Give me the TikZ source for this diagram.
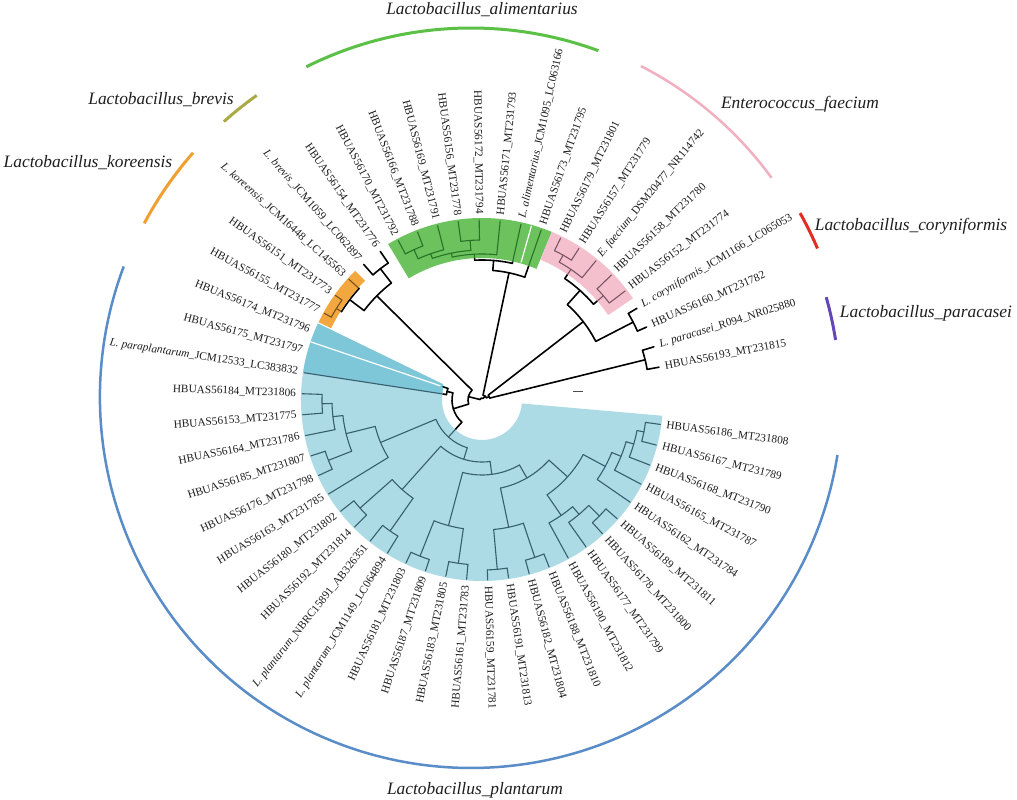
\documentclass[tikz,border=0pt]{standalone}
\usepackage{fontspec}
\setmainfont{Liberation Serif}
\definecolor{fblue}{RGB}{172,218,229}
\definecolor{fbluedk}{RGB}{125,199,217}
\definecolor{fgreen}{RGB}{108,194,92}
\definecolor{fpink}{RGB}{244,192,206}
\definecolor{forange}{RGB}{242,168,62}
\definecolor{lblue}{RGB}{55,95,110}
\definecolor{lgreen}{RGB}{40,115,40}
\definecolor{lpink}{RGB}{125,85,100}
\definecolor{lorange}{RGB}{120,80,30}
\definecolor{agreen}{RGB}{90,192,70}
\definecolor{apink}{RGB}{240,176,192}
\definecolor{ared}{RGB}{225,45,35}
\definecolor{apurple}{RGB}{100,70,180}
\definecolor{aolive}{RGB}{170,170,70}
\definecolor{aorange}{RGB}{240,160,50}
\definecolor{ablue}{RGB}{90,140,200}
\definecolor{txt}{RGB}{30,30,30}
\tikzset{
  tl/.style={draw=black, line width=1.6pt, line cap=round},
  lbl/.style={inner sep=0pt, font=\fontsize{11.3}{12}\selectfont, text=txt},
  spec/.style={inner sep=0pt, font=\fontsize{17.4}{19}\selectfont\itshape, text=txt},
  oarc/.style={line width=3pt}
}
\newcommand{\RL}[3]{\draw[tl] (#1:#2pt) -- (#1:#3pt);}
\newcommand{\AR}[3]{\draw[tl] (#2:#1pt) arc[start angle=#2,end angle=#3,radius=#1pt];}
\newcommand{\hb}[2]{HBUAS#1\_MT#2}
\newcommand{\lab}[3]{%
  \ifdim #2pt>90pt\relax
    \ifdim #2pt<270pt\relax
      \node[lbl,anchor=east,rotate=#2-180] (l#1) at (#2:186pt) {#3};
    \else
      \node[lbl,anchor=west,rotate=#2] (l#1) at (#2:186pt) {#3};
    \fi
  \else
    \node[lbl,anchor=west,rotate=#2] (l#1) at (#2:186pt) {#3};
  \fi}
\newcommand{\bluepath}{(155:181pt) arc[start angle=155,end angle=355,radius=181pt] -- (355:40pt) arc[start angle=355,end angle=170,radius=40pt] -- (158:42pt) -- cycle}
\newcommand{\sector}[4]{(#1:#3pt) -- (#1:#4pt) arc[start angle=#1,end angle=#2,radius=#4pt] -- (#2:#3pt) arc[start angle=#2,end angle=#1,radius=#3pt] -- cycle}
\newcommand{\treelines}{%
% root
\AR{2}{51.91}{166.17}\RL{166.17}{2}{14}\RL{51.91}{2}{5}%
\AR{14}{135.29}{197.04}\RL{135.29}{14}{148}\RL{197.04}{14}{30}%
\AR{5}{25.8}{78.02}\RL{78.02}{5}{130}\RL{25.8}{5}{8}%
\AR{8}{13.85}{37.73}\RL{37.73}{8}{128}\RL{13.85}{8}{168}%
% paracasei group
\AR{168}{10.5}{17.2}\RL{10.5}{168}{180}\RL{17.2}{168}{180}%
% coryniformis + pink
\AR{128}{27.25}{48.19}\RL{27.25}{128}{170}\RL{48.19}{128}{147}%
\AR{170}{23.9}{30.6}\RL{23.9}{170}{180}\RL{30.6}{170}{180}%
\AR{147}{40.65}{55.73}\RL{40.65}{147}{160}\RL{55.73}{147}{158}%
\AR{160}{37.3}{44}\RL{37.3}{160}{180}\RL{44}{160}{180}%
\AR{158}{50.7}{60.75}\RL{50.7}{158}{180}\RL{60.75}{158}{166}%
\AR{166}{57.4}{64.1}\RL{57.4}{166}{180}\RL{64.1}{166}{180}%
% green
\AR{130}{70.8}{85.24}\RL{70.8}{130}{180}\RL{85.24}{130}{140}%
\AR{140}{77.5}{92.99}\RL{77.5}{140}{180}\RL{92.99}{140}{146}%
\AR{146}{84.2}{101.78}\RL{84.2}{146}{180}\RL{101.78}{146}{150}%
\AR{150}{94.25}{109.33}\RL{94.25}{150}{160}\RL{109.33}{150}{155}%
\AR{160}{90.9}{97.6}\RL{90.9}{160}{180}\RL{97.6}{160}{180}%
\AR{155}{104.3}{114.35}\RL{104.3}{155}{180}\RL{114.35}{155}{165}%
\AR{165}{111}{117.7}\RL{111}{165}{180}\RL{117.7}{165}{180}%
% brevis + koreensis
\AR{148}{127.75}{142.83}\RL{127.75}{148}{166}\RL{142.83}{148}{166}%
\AR{166}{124.4}{131.1}\RL{124.4}{166}{180}\RL{131.1}{166}{180}%
\AR{166}{137.8}{147.85}\RL{137.8}{166}{180}\RL{147.85}{166}{172}%
\AR{172}{144.5}{151.2}\RL{144.5}{172}{180}\RL{151.2}{172}{180}%
% blue
\AR{30}{166.28}{227.8}\RL{166.28}{30}{36}\RL{227.8}{30}{50}%
\AR{36}{161.25}{171.3}\RL{161.25}{36}{42}\RL{171.3}{36}{180}%
\AR{50}{202.71}{252.88}\RL{202.71}{50}{110}\RL{252.88}{50}{62}%
\AR{110}{193.91}{211.5}\RL{193.91}{110}{140}\RL{211.5}{110}{180}%
\AR{140}{186.38}{201.45}\RL{186.38}{140}{150}\RL{201.45}{140}{165}%
\AR{150}{181.35}{191.4}\RL{181.35}{150}{160}\RL{191.4}{150}{180}%
\AR{160}{178}{184.7}\RL{178}{160}{180}\RL{184.7}{160}{180}%
\AR{165}{198.1}{204.8}\RL{198.1}{165}{180}\RL{204.8}{165}{180}%
\AR{62}{228.25}{277.5}\RL{228.25}{62}{120}\RL{277.5}{62}{75}%
\AR{120}{221.55}{234.95}\RL{221.55}{120}{163}\RL{234.95}{120}{160}%
\AR{163}{218.2}{224.9}\RL{218.2}{163}{180}\RL{224.9}{163}{180}%
\AR{160}{231.6}{238.3}\RL{231.6}{160}{180}\RL{238.3}{160}{180}%
\AR{75}{255.05}{299.96}\RL{255.05}{75}{130}\RL{299.96}{75}{90}%
\AR{130}{248.35}{261.75}\RL{248.35}{130}{168}\RL{261.75}{130}{165}%
\AR{168}{245}{251.7}\RL{245}{168}{180}\RL{251.7}{168}{180}%
\AR{165}{258.4}{265.1}\RL{258.4}{165}{180}\RL{265.1}{165}{180}%
\AR{90}{281.85}{318.07}\RL{281.85}{90}{130}\RL{318.07}{90}{115}%
\AR{130}{275.15}{288.55}\RL{275.15}{130}{170}\RL{288.55}{130}{166}%
\AR{170}{271.8}{278.5}\RL{271.8}{170}{180}\RL{278.5}{170}{180}%
\AR{166}{285.2}{291.9}\RL{285.2}{166}{180}\RL{291.9}{166}{180}%
\AR{115}{304.46}{331.68}\RL{304.46}{115}{140}\RL{331.68}{115}{140}%
\AR{140}{298.6}{310.33}\RL{298.6}{140}{180}\RL{310.33}{140}{150}%
\AR{150}{305.3}{315.35}\RL{305.3}{150}{180}\RL{315.35}{150}{165}%
\AR{165}{312}{318.7}\RL{312}{165}{180}\RL{318.7}{165}{180}%
\AR{140}{325.4}{337.96}\RL{325.4}{140}{180}\RL{337.96}{140}{150}%
\AR{150}{332.1}{343.83}\RL{332.1}{150}{180}\RL{343.83}{150}{158}%
\AR{158}{338.8}{348.85}\RL{338.8}{158}{180}\RL{348.85}{158}{165}%
\AR{165}{345.5}{352.2}\RL{345.5}{165}{180}\RL{352.2}{165}{180}%
}
\begin{document}
\begin{tikzpicture}[x=1pt,y=1pt]
\useasboundingbox (0,0) rectangle (1017,800);
\fill[white] (0,0) rectangle (1017,800);
\begin{scope}[shift={(482,400)}]
  % black tree
  \treelines
  % shadings
  \fill[fblue] \bluepath;
  \fill[fbluedk] (158:42pt) -- (155:181pt) arc[start angle=155,end angle=171.3,radius=181pt] -- (171.3:40pt) -- cycle;
  \fill[fgreen] \sector{67.45}{121.05}{142}{182};
  \fill[fpink] \sector{33.95}{67.45}{152}{182};
  \fill[forange] \sector{134.45}{154.55}{167}{181};
  % coloured tree parts
  \begin{scope}
    \clip \bluepath;
    \tikzset{tl/.style={draw=lblue, line width=1.1pt, line cap=round}}
    \treelines
  \end{scope}
  \begin{scope}
    \clip \sector{67.45}{121.05}{142}{182};
    \tikzset{tl/.style={draw=lgreen, line width=1.1pt, line cap=round}}
    \treelines
  \end{scope}
  \begin{scope}
    \clip \sector{33.95}{67.45}{152}{182};
    \tikzset{tl/.style={draw=lpink, line width=1.1pt, line cap=round}}
    \treelines
  \end{scope}
  \begin{scope}
    \clip \sector{134.45}{154.55}{167}{181};
    \tikzset{tl/.style={draw=lorange, line width=1.1pt, line cap=round}}
    \treelines
  \end{scope}
  \draw[white, line width=1.2pt] (161.25:44pt) -- (161.25:181pt);
  \draw[white, line width=1.2pt] (74.15:143pt) -- (74.15:181pt);
  % labels
  \lab{0}{10.5}{\hb{56193}{231815}}
  \lab{1}{17.2}{\textit{L. paracasei}\_R094\_NR025880}
  \lab{2}{23.9}{\hb{56160}{231782}}
  \lab{3}{30.6}{\textit{L. coryniformis}\_JCM1166\_LC065053}
  \lab{4}{37.3}{\hb{56152}{231774}}
  \lab{5}{44.0}{\hb{56158}{231780}}
  \lab{6}{50.7}{\textit{E. faecium}\_DSM20477\_NR114742}
  \lab{7}{57.4}{\hb{56157}{231779}}
  \lab{8}{64.1}{\hb{56179}{231801}}
  \lab{9}{70.8}{\hb{56173}{231795}}
  \lab{10}{77.5}{\textit{L. alimentarius}\_JCM1095\_LC063166}
  \lab{11}{84.2}{\hb{56171}{231793}}
  \lab{12}{90.9}{\hb{56172}{231794}}
  \lab{13}{97.6}{\hb{56156}{231778}}
  \lab{14}{104.3}{\hb{56169}{231791}}
  \lab{15}{111.0}{\hb{56166}{231788}}
  \lab{16}{117.7}{\hb{56170}{231792}}
  \lab{17}{124.4}{\hb{56154}{231776}}
  \lab{18}{131.1}{\textit{L. brevis}\_JCM1059\_LC062897}
  \lab{19}{137.8}{\textit{L. koreensis}\_JCM16448\_LC145563}
  \lab{20}{144.5}{\hb{56151}{231773}}
  \lab{21}{151.2}{\hb{56155}{231777}}
  \lab{22}{157.9}{\hb{56174}{231796}}
  \lab{23}{164.6}{\hb{56175}{231797}}
  \lab{24}{171.3}{\textit{L. paraplantarum}\_JCM12533\_LC383832}
  \lab{25}{178.0}{\hb{56184}{231806}}
  \lab{26}{184.7}{\hb{56153}{231775}}
  \lab{27}{191.4}{\hb{56164}{231786}}
  \lab{28}{198.1}{\hb{56185}{231807}}
  \lab{29}{204.8}{\hb{56176}{231798}}
  \lab{30}{211.5}{\hb{56163}{231785}}
  \lab{31}{218.2}{\hb{56180}{231802}}
  \lab{32}{224.9}{\hb{56192}{231814}}
  \lab{33}{231.6}{\textit{L. plantarum}\_NBRC15891\_AB326351}
  \lab{34}{238.3}{\textit{L. plantarum}\_JCM1149\_LC064894}
  \lab{35}{245.0}{\hb{56181}{231803}}
  \lab{36}{251.7}{\hb{56187}{231809}}
  \lab{37}{258.4}{\hb{56183}{231805}}
  \lab{38}{265.1}{\hb{56161}{231783}}
  \lab{39}{271.8}{\hb{56159}{231781}}
  \lab{40}{278.5}{\hb{56191}{231813}}
  \lab{41}{285.2}{\hb{56182}{231804}}
  \lab{42}{291.9}{\hb{56188}{231810}}
  \lab{43}{298.6}{\hb{56190}{231812}}
  \lab{44}{305.3}{\hb{56177}{231799}}
  \lab{45}{312.0}{\hb{56178}{231800}}
  \lab{46}{318.7}{\hb{56189}{231811}}
  \lab{47}{325.4}{\hb{56162}{231784}}
  \lab{48}{332.1}{\hb{56165}{231787}}
  \lab{49}{338.8}{\hb{56168}{231790}}
  \lab{50}{345.5}{\hb{56167}{231789}}
  \lab{51}{352.2}{\hb{56186}{231808}}
\end{scope}
% scale bar
\draw[black!70, line width=1pt] (573,408) -- (583,408);
% outer group arcs
\begin{scope}[shift={(471,403)}]
  \draw[oarc, agreen] (69.8:369pt) arc[start angle=69.8,end angle=116.5,radius=369pt];
  \draw[line width=2.5pt, apink] (36.1:372pt) arc[start angle=36.1,end angle=62.8,radius=372pt];
  \draw[oarc, ared] (23.2:377pt) arc[start angle=23.2,end angle=29.2,radius=377pt];
  \draw[oarc, apurple] (8.9:369pt) arc[start angle=8.9,end angle=15.7,radius=369pt];
  \draw[oarc, aolive] (125.4:370pt) arc[start angle=125.4,end angle=131.9,radius=370pt];
  \draw[oarc, aorange] (138.7:370pt) arc[start angle=138.7,end angle=152,radius=370pt];
  \draw[line width=2.5pt, ablue] (159.4:371pt) arc[start angle=159.4,end angle=351,radius=371pt];
\end{scope}
% group names
\node[spec] (nalim) at (482,790) {Lactobacillus\_alimentarius};
\node[spec] (nbrev) at (161,700) {Lactobacillus\_brevis};
\node[spec] (nkor) at (88,637) {Lactobacillus\_koreensis};
\node[spec] (nent) at (800,696) {Enterococcus\_faecium};
\node[spec] (ncor) at (911,574) {Lactobacillus\_coryniformis};
\node[spec] (npar) at (926,487) {Lactobacillus\_paracasei};
\node[spec] (npla) at (475,10) {Lactobacillus\_plantarum};
\end{tikzpicture}
\end{document}
